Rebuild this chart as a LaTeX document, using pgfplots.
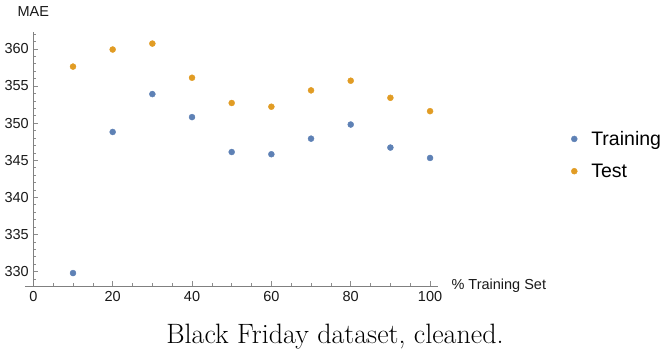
\documentclass[border=0pt]{standalone}
\usepackage{fontspec}
\usepackage{pgfplots}
\pgfplotsset{compat=1.18}
\newfontfamily\arial{Liberation Sans}
\definecolor{mblue}{HTML}{5E81B5}
\definecolor{morange}{HTML}{E19C24}
\begin{document}
\begin{tikzpicture}[x=1pt,y=1pt]
\path[use as bounding box] (-25,-65.3) rectangle (638,285.7);
\begin{axis}[
  at={(0,0)}, anchor=south west,
  scale only axis, width=413pt, height=254pt,
  xmin=-2.1, xmax=102, ymin=328.1, ymax=362.3,
  axis lines=center,
  hide obscured x ticks=false, hide obscured y ticks=false,
  axis line style={draw=black!50, -},
  every tick/.style={draw=black!45, line width=0.5pt},
  tick align=inside,
  major tick length=5pt, minor tick length=3pt,
  xtick={0,20,...,100}, minor xtick={5,10,...,100},
  ytick={330,335,...,360}, minor ytick={329,331,332,333,334,336,337,338,339,341,342,343,344,346,347,348,349,351,352,353,354,356,357,358,359,361,362},
  /pgf/number format/assume math mode=true,
  ticklabel style={font=\arial\fontsize{14.5}{16}\selectfont, text=black!90},
  xticklabel style={yshift=-2pt},
  yticklabel style={xshift=-1pt},
  legend style={draw=none, fill=none, at={(1.315,0.515)}, anchor=west,
    font=\arial\fontsize{19.5}{22}\selectfont, row sep=15pt,
    nodes={inner sep=1pt},
    /tikz/every odd column/.append style={column sep=13pt}},
  legend cell align=left,
  legend image code/.code={\draw[#1] plot coordinates {(0pt,0pt)};},
  clip=false,
]
\addplot[only marks, mark=*, mark size=3pt, color=mblue] coordinates {
 (10,329.8) (20,348.8) (30,353.9) (40,350.8) (50,346.1)
 (60,345.8) (70,347.9) (80,349.8) (90,346.7) (100,345.3)};
\addlegendentry{Training}
\addplot[only marks, mark=*, mark size=3pt, color=morange] coordinates {
 (10,357.6) (20,359.9) (30,360.7) (40,356.1) (50,352.7)
 (60,352.2) (70,354.4) (80,355.7) (90,353.4) (100,351.6)};
\addlegendentry{Test}
\node[anchor=south, font=\arial\fontsize{14.5}{16}\selectfont, text=black!90] at (axis cs:0,362.3) [yshift=12pt] {MAE};
\node[anchor=west, font=\arial\fontsize{14.5}{16}\selectfont, text=black!90] at (axis cs:102,328.1) [xshift=10pt] {\% Training Set};
\end{axis}
\node[anchor=base, font=\fontsize{28}{32}\selectfont] at (310,-57.3) {Black Friday dataset, cleaned.};
\end{tikzpicture}
\end{document}
